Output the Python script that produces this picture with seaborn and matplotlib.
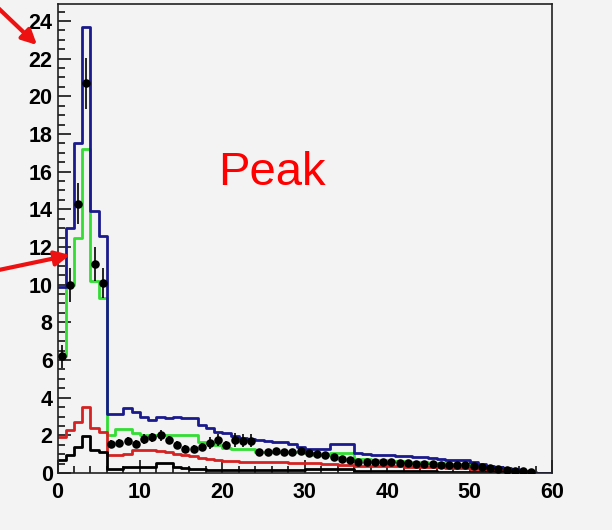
import numpy as np
import matplotlib
matplotlib.use('Agg')
import matplotlib.pyplot as plt
from matplotlib.ticker import MultipleLocator
import seaborn as sns

sns.set_style("ticks")
plt.rcParams['font.family'] = ['Liberation Sans', 'DejaVu Sans']

# 60 bins of width 1 from 0 to 60
bin_edges = list(range(0, 61))

blue_mc = [9.9, 13.0, 17.5, 23.7, 13.9, 12.6,
           3.15, 3.15, 3.45, 3.25, 3.0, 2.8, 2.95, 2.9, 2.95, 2.9, 2.9, 2.55, 2.4, 2.2,
           2.1, 1.95, 1.85, 1.8, 1.75, 1.7, 1.65, 1.65, 1.55, 1.4, 1.3, 1.3, 1.3, 1.55,
           1.55, 1.55, 1.05, 1.0, 0.95, 0.95, 0.95, 0.9, 0.9, 0.85, 0.85, 0.8, 0.75, 0.7,
           0.7, 0.7, 0.6, 0.5, 0.35, 0.3, 0.25, 0.2, 0.1, 0.05, 0.0, 0.0]
green_mc = [6.2, 10.0, 12.5, 17.2, 10.2, 9.3,
            2.0, 2.35, 2.35, 2.1, 2.0, 2.0, 2.0, 2.0, 2.0, 2.0, 2.0, 1.65, 1.6, 1.5,
            1.35, 1.3, 1.3, 1.3, 1.1, 1.1, 1.1, 1.1, 1.1, 1.1, 1.05, 0.95, 0.95, 1.05,
            1.05, 1.05, 0.75, 0.75, 0.7, 0.7, 0.65, 0.65, 0.6, 0.6, 0.6, 0.55, 0.55, 0.5,
            0.5, 0.45, 0.4, 0.35, 0.25, 0.2, 0.15, 0.1, 0.05, 0.03, 0.0, 0.0]
red_mc = [1.9, 2.3, 2.7, 3.5, 2.4, 2.2,
          0.95, 0.95, 1.0, 1.2, 1.2, 1.2, 1.15, 1.1, 1.0, 0.95, 0.9, 0.8, 0.75, 0.7,
          0.65, 0.62, 0.6, 0.6, 0.6, 0.6, 0.58, 0.58, 0.55, 0.55, 0.55, 0.52, 0.5, 0.5,
          0.45, 0.45, 0.35, 0.35, 0.35, 0.35, 0.35, 0.35, 0.3, 0.3, 0.3, 0.3, 0.3, 0.28,
          0.28, 0.25, 0.2, 0.2, 0.1, 0.1, 0.05, 0.05, 0.02, 0.0, 0.0, 0.0]
black_mc = [0.7, 0.95, 1.4, 1.95, 1.2, 1.1,
            0.2, 0.2, 0.3, 0.3, 0.3, 0.3, 0.55, 0.55, 0.3, 0.25, 0.2, 0.2, 0.15, 0.15,
            0.15, 0.15, 0.15, 0.15, 0.15, 0.15, 0.15, 0.15, 0.15, 0.15, 0.2, 0.2, 0.2, 0.2,
            0.2, 0.2, 0.1, 0.1, 0.1, 0.1, 0.1, 0.1, 0.1, 0.1, 0.1, 0.1, 0.05, 0.05,
            0.05, 0.05, 0.05, 0.05, 0.05, 0.05, 0.05, 0.05, 0.0, 0.0, 0.0, 0.0]

# data points at bin centres 0.5 .. 57.5
data_x = [i + 0.5 for i in range(58)]
data_y = [6.2, 10.0, 14.3, 20.7, 11.1, 10.1,
          1.55, 1.6, 1.7, 1.55, 1.8, 1.9, 2.0, 1.75, 1.5, 1.3, 1.3, 1.38, 1.6, 1.75,
          1.5, 1.75, 1.72, 1.72, 1.13, 1.13, 1.17, 1.13, 1.1, 1.17, 1.05, 1.02, 0.95, 0.86,
          0.74, 0.7, 0.6, 0.6, 0.6, 0.6, 0.58, 0.53, 0.53, 0.5, 0.5, 0.48, 0.45, 0.45,
          0.42, 0.4, 0.38, 0.32, 0.25, 0.2, 0.15, 0.12, 0.1, 0.05]
data_err = [0.6, 0.9, 1.1, 1.35, 0.9, 0.8,
            0.2, 0.2, 0.2, 0.2, 0.25, 0.25, 0.3, 0.2, 0.2, 0.2, 0.2, 0.2, 0.3, 0.3,
            0.2, 0.35, 0.35, 0.35, 0.15, 0.15, 0.15, 0.15, 0.15, 0.15, 0.15, 0.15, 0.15, 0.15,
            0.15, 0.12, 0.12, 0.12, 0.12, 0.12, 0.12, 0.12, 0.12, 0.1, 0.1, 0.1, 0.1, 0.1,
            0.1, 0.1, 0.1, 0.08, 0.08, 0.06, 0.06, 0.05, 0.05, 0.04]

bg = '#f3f3f3'
fig = plt.figure(figsize=(6.12, 5.30), dpi=100, facecolor=bg)
ax = fig.add_axes([0.094, 0.1075, 0.808, 0.885])
ax.set_facecolor(bg)

centers = [e + 0.5 for e in bin_edges[:-1]]
hists = [(green_mc, '#33dd33'), (red_mc, '#d42222'), (black_mc, 'black'), (blue_mc, '#1a1a8c')]
for vals, col in hists:
    sns.histplot(x=centers, weights=vals, bins=bin_edges, element='step', fill=False,
                 color=col, linewidth=2.0, ax=ax)

ax.errorbar(data_x, data_y, yerr=data_err, fmt='none', ecolor='black', elinewidth=1.2,
            capsize=0, zorder=5)
sns.scatterplot(x=data_x, y=data_y, marker='o', s=38, color='black', edgecolor='black',
                linewidth=0, zorder=6, ax=ax)

ax.set_xlim(0, 60)
ax.set_ylim(0, 24.9)
ax.set_xlabel('')
ax.set_ylabel('')

ax.xaxis.set_major_locator(MultipleLocator(10))
ax.xaxis.set_minor_locator(MultipleLocator(2))
ax.yaxis.set_major_locator(MultipleLocator(2))
ax.yaxis.set_minor_locator(MultipleLocator(0.5))
ax.tick_params(axis='both', which='both', direction='in', top=False, right=False,
               colors='black', width=1.1)
ax.tick_params(axis='both', which='major', length=9.5, labelsize=15.5)
ax.tick_params(axis='both', which='minor', length=5)
ax.tick_params(axis='x', which='major', pad=6.5)
ax.tick_params(axis='y', which='major', pad=3.5)
for lab in ax.get_xticklabels() + ax.get_yticklabels():
    lab.set_fontweight('bold')

for side in ['left', 'bottom', 'top', 'right']:
    ax.spines[side].set_visible(True)
    ax.spines[side].set_color('#222222')
    ax.spines[side].set_linewidth(1.2)

ax.text(26, 15.3, 'Peak', color='red', fontsize=34, ha='center', va='baseline')

# red arrows pointing at the axis
arrow_kw = dict(arrowstyle='-|>', color='#ee1111', lw=3, mutation_scale=22,
                shrinkA=0, shrinkB=0)
ax.annotate('', xy=(37, 485), xycoords='figure pixels', xytext=(-6, 526),
            textcoords='figure pixels', arrowprops=arrow_kw, annotation_clip=False)
ax.annotate('', xy=(70, 275), xycoords='figure pixels', xytext=(-6, 259),
            textcoords='figure pixels', arrowprops=arrow_kw, annotation_clip=False)

fig.savefig('out.png', dpi=100, facecolor=bg)
